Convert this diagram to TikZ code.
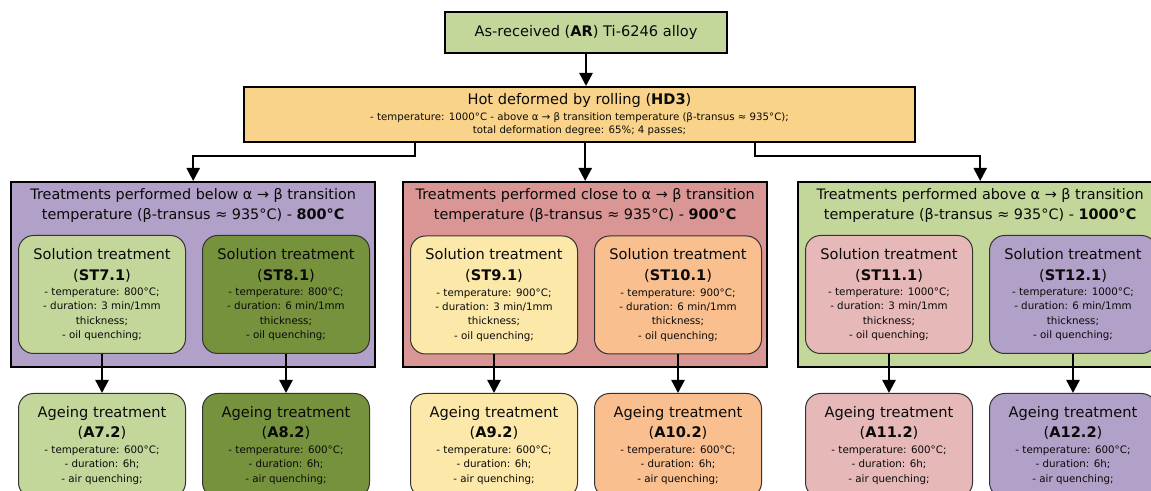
\documentclass[tikz,border=0pt]{standalone}
\usepackage{fontspec}
\setmainfont{DejaVu Sans}
\usetikzlibrary{arrows.meta}
\definecolor{lgreen}{HTML}{C4D79B}
\definecolor{dgreen}{HTML}{76923C}
\definecolor{hdorange}{HTML}{FAD38A}
\definecolor{purp}{HTML}{B1A0C7}
\definecolor{redd}{HTML}{DA9694}
\definecolor{lyellow}{HTML}{FCE8A8}
\definecolor{lorange}{HTML}{FABF8F}
\definecolor{pinkk}{HTML}{E6B8B7}
\definecolor{txt}{HTML}{0A0A0A}
\newcommand\bigf{\fontsize{7.3}{9}\selectfont}
\newcommand\smallf{\fontsize{5.15}{7.2}\selectfont}
\newcommand\hdf{\fontsize{5.1}{6.5}\selectfont}
\newcommand\grf{\fontsize{7.2}{10}\selectfont}
\begin{document}
\begin{tikzpicture}[x=0.5pt,y=-0.5pt,
  topbox/.style={draw=black, line width=1pt, inner sep=0pt, text=txt, align=center},
  grp/.style={draw=black, line width=1.2pt, minimum width=182pt, minimum height=92.5pt, inner sep=0pt, anchor=north west},
  rbox/.style={draw=black!80, line width=0.5pt, rounded corners=7.5pt, minimum width=83.5pt, inner sep=0pt, align=center, text=txt, font=\smallf, anchor=north west},
  stbox/.style={rbox, minimum height=59pt},
  agbox/.style={rbox, minimum height=52pt},
  arr/.style={line width=1.2pt, -{Triangle[width=6.5pt,length=6.5pt]}},
  grtitle/.style={align=center, font=\grf, text=txt, inner sep=0pt}
]
\useasboundingbox (0,0) rectangle (1151,491);
\clip (0,0) rectangle (1151,491);

% top boxes
\node[topbox, fill=lgreen, minimum width=141pt, minimum height=20.5pt, font=\bigf] (ar) at (586,32.5) {As-received (\textbf{AR}) Ti-6246 alloy};
\node[topbox, fill=hdorange, minimum width=335.5pt, minimum height=27.5pt, font=\hdf] (hd) at (579.5,114.5)
  {{\bigf Hot deformed by rolling (\textbf{HD3})}\\[1.6pt]
   - temperature: 1000°C - above α → β transition temperature (β-transus ≈ 935°C);\\
   total deformation degree: 65\%; 4 passes;};

% groups
\node[grp, fill=purp] (g1) at (10,181) {};
\node[grp, fill=redd] (g2) at (402,181) {};
\node[grp, fill=lgreen] (g3) at (797,181) {};

\node[grtitle] (g1t) at ([yshift=-12pt]g1.north) {Treatments performed below α → β transition\\temperature (β-transus ≈ 935°C) - \textbf{800°C}};
\node[grtitle] (g2t) at ([yshift=-12pt]g2.north) {Treatments performed close to α → β transition\\temperature (β-transus ≈ 935°C) - \textbf{900°C}};
\node[grtitle] (g3t) at ([yshift=-12pt]g3.north) {Treatments performed above α → β transition\\temperature (β-transus ≈ 935°C) - \textbf{1000°C}};

% solution treatment boxes
\node[stbox, fill=lgreen] (st71) at (18,235) {{\bigf Solution treatment}\\[3.35pt]{\bigf (\textbf{ST7.1})}\\[0.45pt]- temperature: 800°C;\\- duration: 3 min/1mm\\thickness;\\- oil quenching;};
\node[stbox, fill=dgreen] (st81) at (202,235) {{\bigf Solution treatment}\\[3.35pt]{\bigf (\textbf{ST8.1})}\\[0.45pt]- temperature: 800°C;\\- duration: 6 min/1mm\\thickness;\\- oil quenching;};
\node[stbox, fill=lyellow] (st91) at (410,235.5) {{\bigf Solution treatment}\\[3.35pt]{\bigf (\textbf{ST9.1})}\\[0.45pt]- temperature: 900°C;\\- duration: 3 min/1mm\\thickness;\\- oil quenching;};
\node[stbox, fill=lorange] (st101) at (594,235.5) {{\bigf Solution treatment}\\[3.35pt]{\bigf (\textbf{ST10.1})}\\[0.45pt]- temperature: 900°C;\\- duration: 6 min/1mm\\thickness;\\- oil quenching;};
\node[stbox, fill=pinkk] (st111) at (805,235) {{\bigf Solution treatment}\\[3.35pt]{\bigf (\textbf{ST11.1})}\\[0.45pt]- temperature: 1000°C;\\- duration: 3 min/1mm\\thickness;\\- oil quenching;};
\node[stbox, fill=purp] (st121) at (989,235) {{\bigf Solution treatment}\\[3.35pt]{\bigf (\textbf{ST12.1})}\\[0.45pt]- temperature: 1000°C;\\- duration: 6 min/1mm\\thickness;\\- oil quenching;};

% ageing boxes
\node[agbox, fill=lgreen] (a72) at (18,393) {{\bigf Ageing treatment}\\[2.85pt]{\bigf (\textbf{A7.2})}\\[0.45pt]- temperature: 600°C;\\- duration: 6h;\\- air quenching;};
\node[agbox, fill=dgreen] (a82) at (202,393) {{\bigf Ageing treatment}\\[2.85pt]{\bigf (\textbf{A8.2})}\\[0.45pt]- temperature: 600°C;\\- duration: 6h;\\- air quenching;};
\node[agbox, fill=lyellow] (a92) at (410,393) {{\bigf Ageing treatment}\\[2.85pt]{\bigf (\textbf{A9.2})}\\[0.45pt]- temperature: 600°C;\\- duration: 6h;\\- air quenching;};
\node[agbox, fill=lorange] (a102) at (594,393) {{\bigf Ageing treatment}\\[2.85pt]{\bigf (\textbf{A10.2})}\\[0.45pt]- temperature: 600°C;\\- duration: 6h;\\- air quenching;};
\node[agbox, fill=pinkk] (a112) at (805,393) {{\bigf Ageing treatment}\\[2.85pt]{\bigf (\textbf{A11.2})}\\[0.45pt]- temperature: 600°C;\\- duration: 6h;\\- air quenching;};
\node[agbox, fill=purp] (a122) at (989,393) {{\bigf Ageing treatment}\\[2.85pt]{\bigf (\textbf{A12.2})}\\[0.45pt]- temperature: 600°C;\\- duration: 6h;\\- air quenching;};

% connectors
\draw[arr] (ar.south) -- (ar.south |- hd.north);
\draw[arr] ([xshift=-82.25pt]hd.south) -- ++(0,13) -| (g1.north);
\draw[arr] (hd.south -| g2.north) -- (g2.north);
\draw[arr] ([xshift=87.75pt]hd.south) -- ++(0,13) -| (g3.north);

\foreach \s/\a in {st71/a72, st81/a82, st91/a92, st101/a102, st111/a112, st121/a122}
  \draw[arr] (\s.south) -- (\a.north);
\end{tikzpicture}
\end{document}
